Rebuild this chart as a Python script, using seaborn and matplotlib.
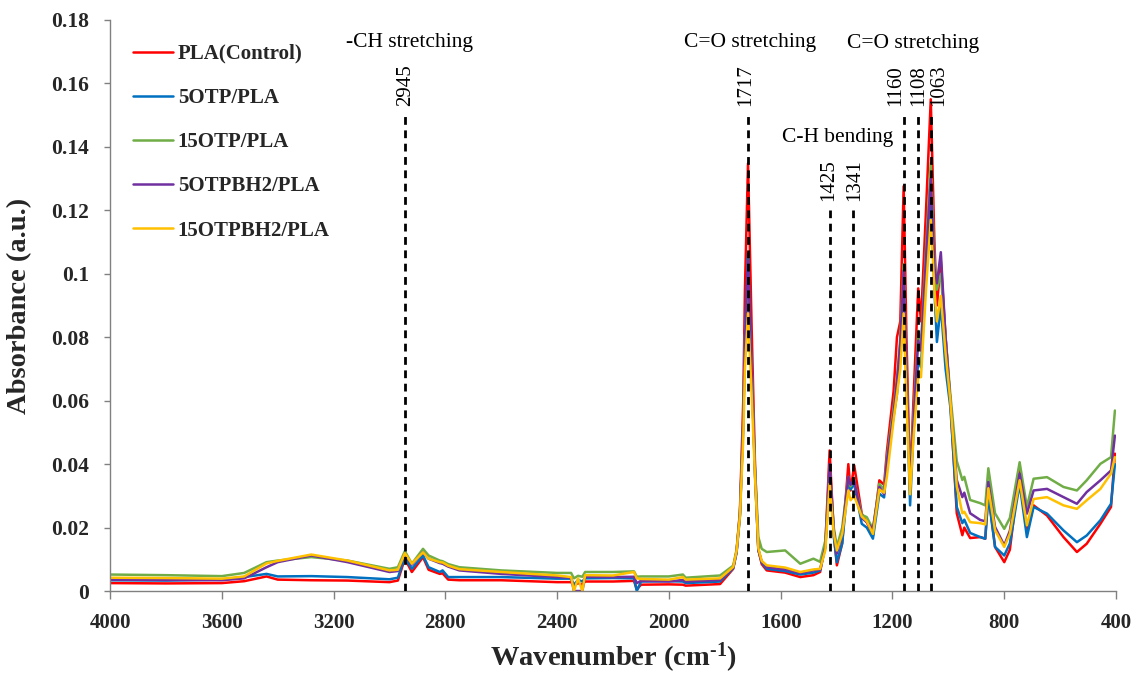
import numpy as np
import pandas as pd
import matplotlib
matplotlib.use("Agg")
import matplotlib.pyplot as plt
from matplotlib.ticker import FuncFormatter
import seaborn as sns

# ---- FTIR spectra (wavenumber in cm-1, absorbance in a.u.) ----
wavenumber = [
    4000, 3800, 3600, 3520, 3440, 3400, 3280, 3150, 3000, 2970, 2945, 2920, 2880, 2860,
    2820, 2810, 2790, 2750, 2600, 2400, 2350, 2340, 2325, 2310, 2300, 2200, 2125, 2115,
    2100, 2000, 1950, 1940, 1817, 1770, 1758, 1746, 1734, 1728, 1717, 1704, 1692, 1680,
    1668, 1650, 1584, 1530, 1483, 1459, 1440, 1425, 1410, 1399, 1380, 1358, 1350, 1337,
    1310, 1292, 1270, 1247, 1230, 1220, 1196, 1184, 1172, 1160, 1150, 1137, 1125, 1108,
    1098, 1080, 1063, 1050, 1041, 1027, 1010, 993, 970, 950, 943, 922, 886, 868,
    857, 833, 800, 780, 745, 719, 695, 647, 588, 540, 505, 456, 418, 404,
]

pla_control = [
    0.0025, 0.0024, 0.0025, 0.0031, 0.0046, 0.0036, 0.0034, 0.0033, 0.0028, 0.0033, 0.0102, 0.0060, 0.0107, 0.0067,
    0.0054, 0.0056, 0.0036, 0.0034, 0.0034, 0.0028, 0.0028, 0.0018, 0.0025, 0.0020, 0.0030, 0.0030, 0.0032, 0.0005,
    0.0020, 0.0021, 0.0020, 0.0017, 0.0022, 0.0070, 0.0125, 0.0250, 0.0600, 0.0950, 0.1348, 0.0830, 0.0400, 0.0130,
    0.0085, 0.0065, 0.0058, 0.0044, 0.0050, 0.0060, 0.0150, 0.0443, 0.0180, 0.0081, 0.0150, 0.0400, 0.0317, 0.0396,
    0.0244, 0.0217, 0.0175, 0.0349, 0.0335, 0.0440, 0.0630, 0.0800, 0.0850, 0.1276, 0.0800, 0.0335, 0.0600, 0.0954,
    0.0850, 0.1200, 0.1550, 0.1100, 0.0900, 0.1040, 0.0800, 0.0600, 0.0245, 0.0176, 0.0200, 0.0167, 0.0170, 0.0165,
    0.0309, 0.0139, 0.0091, 0.0130, 0.0380, 0.0186, 0.0270, 0.0238, 0.0170, 0.0123, 0.0149, 0.0212, 0.0265, 0.0433,
]

otp5 = [
    0.0034, 0.0033, 0.0036, 0.0044, 0.0054, 0.0046, 0.0047, 0.0044, 0.0037, 0.0042, 0.0107, 0.0070, 0.0112, 0.0075,
    0.0060, 0.0065, 0.0044, 0.0044, 0.0044, 0.0039, 0.0039, 0.0020, 0.0035, 0.0030, 0.0040, 0.0041, 0.0040, 0.0000,
    0.0030, 0.0031, 0.0030, 0.0025, 0.0030, 0.0072, 0.0120, 0.0235, 0.0520, 0.0800, 0.1065, 0.0700, 0.0370, 0.0130,
    0.0090, 0.0070, 0.0063, 0.0052, 0.0058, 0.0065, 0.0140, 0.0380, 0.0170, 0.0091, 0.0150, 0.0349, 0.0320, 0.0338,
    0.0212, 0.0200, 0.0165, 0.0307, 0.0295, 0.0400, 0.0550, 0.0620, 0.0750, 0.0980, 0.0650, 0.0270, 0.0500, 0.0727,
    0.0705, 0.1000, 0.1250, 0.0950, 0.0785, 0.0900, 0.0700, 0.0580, 0.0265, 0.0214, 0.0225, 0.0183, 0.0170, 0.0165,
    0.0300, 0.0139, 0.0112, 0.0150, 0.0338, 0.0170, 0.0265, 0.0244, 0.0191, 0.0154, 0.0175, 0.0223, 0.0275, 0.0400,
]

otp15 = [
    0.0052, 0.0050, 0.0047, 0.0057, 0.0091, 0.0096, 0.0107, 0.0096, 0.0070, 0.0075, 0.0126, 0.0086, 0.0133, 0.0112,
    0.0096, 0.0094, 0.0085, 0.0075, 0.0065, 0.0057, 0.0057, 0.0040, 0.0048, 0.0045, 0.0060, 0.0060, 0.0062, 0.0045,
    0.0046, 0.0046, 0.0052, 0.0042, 0.0049, 0.0080, 0.0130, 0.0244, 0.0540, 0.0800, 0.0950, 0.0700, 0.0390, 0.0170,
    0.0133, 0.0123, 0.0128, 0.0086, 0.0102, 0.0092, 0.0160, 0.0390, 0.0200, 0.0139, 0.0200, 0.0360, 0.0330, 0.0349,
    0.0240, 0.0233, 0.0196, 0.0338, 0.0320, 0.0420, 0.0580, 0.0670, 0.0800, 0.1030, 0.0700, 0.0338, 0.0550, 0.0820,
    0.0779, 0.1080, 0.1350, 0.1050, 0.0950, 0.1000, 0.0800, 0.0620, 0.0410, 0.0350, 0.0360, 0.0287, 0.0277, 0.0270,
    0.0387, 0.0245, 0.0196, 0.0230, 0.0406, 0.0265, 0.0354, 0.0359, 0.0328, 0.0317, 0.0349, 0.0401, 0.0422, 0.0569,
]

otpbh2_5 = [
    0.0036, 0.0035, 0.0034, 0.0040, 0.0075, 0.0091, 0.0112, 0.0091, 0.0060, 0.0063, 0.0117, 0.0083, 0.0122, 0.0102,
    0.0088, 0.0086, 0.0077, 0.0065, 0.0054, 0.0044, 0.0042, 0.0000, 0.0000, 0.0000, 0.0045, 0.0044, 0.0045, 0.0025,
    0.0032, 0.0030, 0.0035, 0.0030, 0.0035, 0.0074, 0.0124, 0.0240, 0.0530, 0.0790, 0.1040, 0.0690, 0.0370, 0.0130,
    0.0093, 0.0075, 0.0068, 0.0057, 0.0065, 0.0068, 0.0140, 0.0400, 0.0190, 0.0118, 0.0180, 0.0360, 0.0335, 0.0349,
    0.0230, 0.0217, 0.0196, 0.0328, 0.0305, 0.0410, 0.0560, 0.0660, 0.0780, 0.1010, 0.0680, 0.0317, 0.0530, 0.0790,
    0.0758, 0.1050, 0.1300, 0.1020, 0.0970, 0.1068, 0.0800, 0.0600, 0.0350, 0.0296, 0.0310, 0.0245, 0.0224, 0.0220,
    0.0344, 0.0202, 0.0144, 0.0190, 0.0370, 0.0244, 0.0317, 0.0322, 0.0296, 0.0275, 0.0312, 0.0349, 0.0380, 0.0490,
]

otpbh2_15 = [
    0.0042, 0.0041, 0.0039, 0.0046, 0.0087, 0.0095, 0.0115, 0.0096, 0.0065, 0.0067, 0.0119, 0.0086, 0.0122, 0.0102,
    0.0091, 0.0090, 0.0080, 0.0069, 0.0060, 0.0049, 0.0044, 0.0000, 0.0040, 0.0000, 0.0050, 0.0049, 0.0060, 0.0040,
    0.0038, 0.0036, 0.0044, 0.0036, 0.0040, 0.0076, 0.0126, 0.0235, 0.0480, 0.0700, 0.0875, 0.0620, 0.0360, 0.0135,
    0.0095, 0.0081, 0.0074, 0.0060, 0.0068, 0.0070, 0.0130, 0.0338, 0.0180, 0.0128, 0.0180, 0.0317, 0.0286, 0.0300,
    0.0235, 0.0220, 0.0180, 0.0320, 0.0310, 0.0360, 0.0540, 0.0620, 0.0700, 0.0875, 0.0600, 0.0305, 0.0480, 0.0675,
    0.0674, 0.0950, 0.1170, 0.0950, 0.0850, 0.0930, 0.0750, 0.0600, 0.0330, 0.0245, 0.0250, 0.0217, 0.0214, 0.0210,
    0.0324, 0.0192, 0.0139, 0.0180, 0.0349, 0.0207, 0.0290, 0.0296, 0.0270, 0.0259, 0.0286, 0.0322, 0.0370, 0.0422,
]

samples = ["PLA(Control)", "5OTP/PLA", "15OTP/PLA", "5OTPBH2/PLA", "15OTPBH2/PLA"]
sample_colors = ["#FF0000", "#0070C0", "#70AD47", "#7030A0", "#FFC000"]

# marked band positions and their assignments
peak_positions = [2945, 1717, 1425, 1341, 1160, 1108, 1063]
band_names = ["-CH stretching", "C=O stretching", "C-H bending", "C=O stretching"]

x_ticks = [4000, 3600, 3200, 2800, 2400, 2000, 1600, 1200, 800, 400]
y_ticks = [0, 0.02, 0.04, 0.06, 0.08, 0.1, 0.12, 0.14, 0.16, 0.18]

# ---- long-form table for seaborn ----
series = [pla_control, otp5, otp15, otpbh2_5, otpbh2_15]
df = pd.concat(
    [pd.DataFrame({"Wavenumber": wavenumber, "Absorbance": vals, "Sample": name})
     for name, vals in zip(samples, series)],
    ignore_index=True,
)

sns.set_style("white")
plt.rcParams["font.family"] = ["Liberation Serif", "DejaVu Serif"]
plt.rcParams["mathtext.fontset"] = "custom"
plt.rcParams["mathtext.rm"] = "Liberation Serif:bold"
plt.rcParams["mathtext.bf"] = "Liberation Serif:bold"
plt.rcParams["mathtext.it"] = "Liberation Serif:italic:bold"

fig = plt.figure(figsize=(11.38, 6.75), dpi=100)
ax = fig.add_axes([0.0967, 0.1244, 0.884, 0.846])

sns.lineplot(
    data=df, x="Wavenumber", y="Absorbance", hue="Sample",
    hue_order=samples, palette=sample_colors, estimator=None,
    linewidth=1.8, ax=ax, legend=True,
)

ax.set_xlim(4000, 400)
ax.set_ylim(0, 0.18)
ax.set_xticks(x_ticks)
ax.set_yticks(y_ticks)
ax.yaxis.set_major_formatter(FuncFormatter(lambda v, p: f"{v:g}"))
ax.xaxis.set_major_formatter(FuncFormatter(lambda v, p: f"{v:g}"))

for side in ("top", "right"):
    ax.spines[side].set_visible(False)
for side in ("left", "bottom"):
    ax.spines[side].set_color("#808080")
    ax.spines[side].set_linewidth(1.0)

ax.tick_params(axis="y", direction="out", length=4, width=1, color="#808080",
               pad=11, labelsize=15.5, left=True)
ax.tick_params(axis="x", direction="out", length=6, width=1, color="#808080",
               pad=10, labelsize=15, bottom=True)
for lbl in ax.get_xticklabels() + ax.get_yticklabels():
    lbl.set_fontweight("bold")

ax.set_xlabel("Wavenumber (cm$^{\\text{-}1}$)", fontsize=20.5, fontweight="bold")
ax.xaxis.label.set_va("baseline")
ax.xaxis.set_label_coords(0.5, -0.131)
ax.set_ylabel("Absorbance (a.u.)", fontsize=20.5, fontweight="bold")
ax.yaxis.set_label_coords(-0.077, 0.5)

# dashed markers at the assigned bands
line_tops = [0.150, 0.150, 0.120, 0.120, 0.150, 0.150, 0.150]
label_x = [2944, 1727, 1427, 1334, 1190, 1108, 1033]
label_y = [0.153, 0.153, 0.123, 0.123, 0.153, 0.153, 0.153]
for pos, top, lx, ly in zip(peak_positions, line_tops, label_x, label_y):
    ax.plot([pos, pos], [0, top], color="black", lw=2.0,
            linestyle=(0, (2.8, 2.0)), zorder=5)
    ax.text(lx, ly, str(pos), rotation=90, ha="center", va="bottom",
            fontsize=15, color="black")

band_xy = [(2930, 0.1729), (1709, 0.1729), (1396, 0.1430), (1128, 0.1727)]
for name, (bx, by) in zip(band_names, band_xy):
    ax.text(bx, by, name, ha="center", va="center", fontsize=15.5, color="black")

handles, labels = ax.get_legend_handles_labels()
leg = ax.legend(
    handles, labels, loc="upper left", bbox_to_anchor=(0.0229, 0.958),
    frameon=False, labelspacing=1.16, handlelength=1.9,
    handletextpad=0.25, borderpad=0, borderaxespad=0,
    prop={"weight": "bold", "size": 15},
)
for h in leg.get_lines():
    h.set_linewidth(1.8)

fig.savefig("out.png", dpi=100)
